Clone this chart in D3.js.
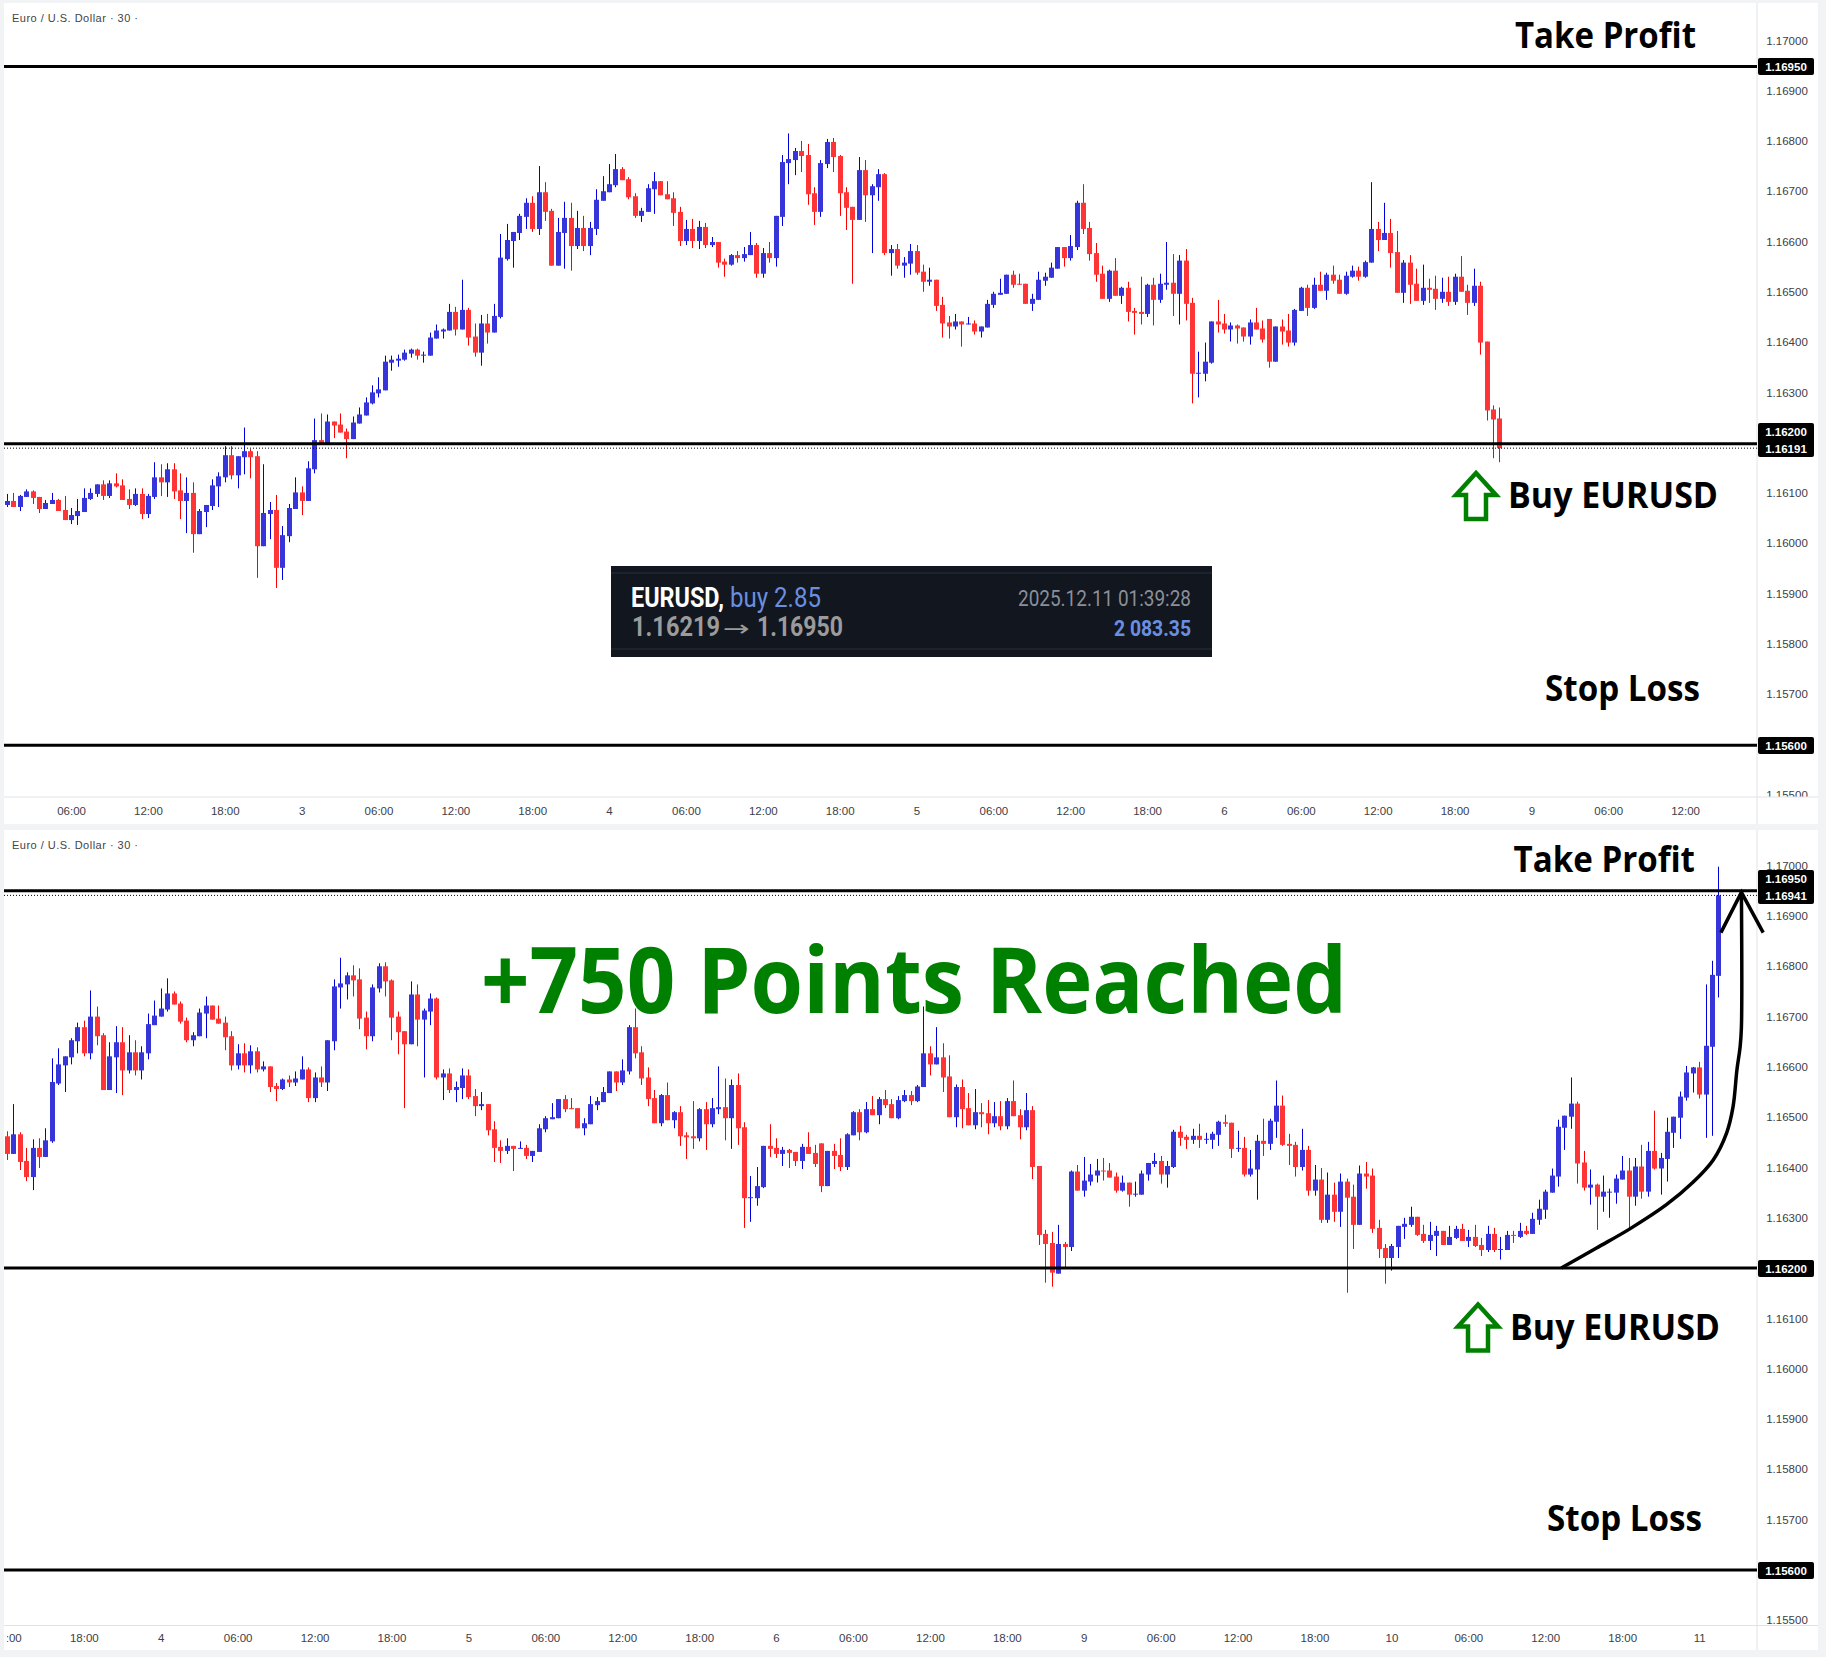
<!DOCTYPE html>
<html><head><meta charset="utf-8">
<style>
html,body{margin:0;padding:0;background:#f2f3f5;}
svg{display:block;}
.tick line,.domain{display:none;}
.ax text{font-family:"Liberation Sans",sans-serif;font-size:11.5px;fill:#3c4048;}
</style>
<script src="https://cdn.jsdelivr.net/npm/d3@7"></script>
</head><body>
<div id="c"></div>
<script>
// All prices are points (1e-5) above 1.16000.
const open=[78,86,74,94,105,94,70,80,88,68,
48,56,64,90,100,119,96,121,117,90,
78,100,60,94,133,123,149,107,86,102,
20,64,76,115,133,177,137,173,185,175,
-4,60,68,-47,16,70,103,86,149,207,
199,244,238,224,209,240,256,280,300,306,
361,365,367,379,387,375,375,409,423,425,
462,427,466,413,381,439,421,452,567,603,
619,651,679,627,700,663,554,619,649,593,
629,593,627,683,700,714,746,726,692,653,
661,706,722,696,688,661,603,627,603,631,
595,601,562,556,575,569,575,595,538,579,
569,651,758,764,782,774,698,661,756,800,
772,700,671,645,744,694,710,736,579,587,
554,558,583,542,522,526,476,441,433,443,
437,439,423,431,476,496,498,536,518,518,
478,486,524,530,548,591,569,591,679,629,
579,538,488,544,494,510,464,462,458,516,
486,516,520,498,564,480,339,339,361,443,
439,427,435,431,413,441,429,448,363,433,
425,401,464,510,470,516,504,536,526,498,
532,544,532,560,627,605,619,581,500,560,
518,484,510,508,488,502,482,532,504,480,
514,403,268,250,189,248,242,392,354,372,
384,394,394,382,354,370,346,346,386,407,
413,386,401,471,461,455,463,455,455,465,
490,489,437,439,386,396,453,447,491,523,
447,445,401,435,354,376,296,346,312,372,
342,286,388,384,280,240,220,242,282,286,
302,268,254,264,274,246,260,278,254,262,
246,236,268,236,236,266,262,274,268,296,
316,350,382,479,501,527,410,360,366,342,
350,350,376,394,342,402,352,433,398,417,
469,499,539,587,599,545,640,781];
const close=[86,74,96,105,92,70,82,88,66,48,
58,66,92,102,119,96,121,115,88,78,
100,60,96,133,123,149,105,86,102,20,
66,78,117,135,177,137,175,185,173,-4,
62,68,-47,18,72,103,86,151,207,199,
244,236,222,209,242,258,282,302,308,363,
367,369,381,387,375,377,411,425,427,462,
427,466,411,381,439,421,454,570,605,621,
653,679,627,700,661,554,621,649,593,629,
593,629,685,702,716,746,724,690,653,663,
708,722,694,686,659,603,627,603,631,595,
601,560,556,575,569,577,595,538,579,569,
653,760,766,782,772,696,661,758,800,770,
698,669,645,744,694,712,736,579,587,554,
560,583,540,522,526,474,439,433,443,437,
439,423,433,478,498,500,536,516,516,478,
488,526,532,550,591,569,593,679,627,577,
536,488,544,494,510,462,460,458,516,486,
518,520,498,564,478,339,341,363,443,437,
427,435,429,413,441,427,407,363,433,423,
401,466,510,470,516,504,536,524,498,534,
544,532,561,627,605,619,579,500,560,516,
484,510,506,488,502,482,532,502,480,514,
401,266,248,191,248,242,392,354,374,386,
394,392,380,354,370,346,348,388,409,413,
386,403,471,459,455,463,455,457,467,491,
487,437,439,386,398,453,447,493,523,445,
443,401,435,354,376,296,346,312,372,340,
286,388,382,278,238,220,244,284,288,302,
266,254,266,274,246,262,278,254,262,244,
236,268,236,238,266,264,274,268,298,318,
352,384,481,503,527,408,360,366,342,352,
352,378,394,342,402,352,433,398,419,471,
501,541,589,599,545,642,783,941];
const high=[100,102,98,109,107,94,88,102,90,96,
72,90,111,111,119,127,127,141,129,109,
111,111,100,163,159,161,161,141,133,123,
70,78,129,143,195,195,175,232,189,185,
159,84,98,36,80,133,115,165,250,260,
258,244,260,230,254,272,292,316,332,375,
375,377,387,389,389,383,421,437,429,478,
472,526,470,439,456,458,478,617,637,621,
657,688,692,752,720,667,649,681,679,663,
653,641,706,732,756,776,750,730,698,669,
716,740,722,722,700,671,645,647,643,639,
611,601,568,577,583,591,621,599,589,601,
653,774,817,788,802,796,710,764,806,808,
774,710,671,770,764,716,746,738,595,597,
571,597,595,556,550,526,492,454,458,443,
452,445,433,486,502,528,536,544,538,518,
498,542,540,560,591,591,615,683,716,641,
599,554,546,569,512,522,470,532,518,530,
538,601,577,575,587,490,383,401,443,486,
458,441,437,431,447,470,445,448,433,447,
458,468,512,516,530,542,540,554,536,542,
554,552,564,720,641,679,647,623,565,575,
548,556,528,534,530,532,538,573,516,548,
522,403,276,272,286,252,394,405,421,407,
417,419,409,390,384,370,372,394,409,429,
423,413,475,483,465,477,487,469,471,493,
505,489,473,461,435,465,497,497,573,543,
467,451,477,443,405,399,390,370,388,378,
366,404,411,398,296,248,248,284,300,322,
302,286,292,284,274,284,284,288,276,286,
260,284,280,262,274,274,290,284,310,336,
356,398,495,503,579,531,433,396,368,384,
358,386,423,419,419,445,451,513,429,499,
501,551,602,600,610,764,811,998];
const low=[74,74,66,94,80,62,70,80,66,48,
40,38,64,88,94,88,92,113,88,70,
76,50,52,90,96,94,90,50,22,-17,
20,34,68,74,123,129,111,139,131,-67,
-4,10,-87,-71,4,70,58,86,141,199,
199,211,222,171,209,240,256,278,292,306,
345,353,365,371,367,361,375,409,409,425,
415,427,395,373,355,399,421,449,564,550,
605,627,621,615,643,554,554,548,544,587,
583,575,615,683,700,710,724,686,649,641,
661,657,694,686,633,593,595,589,587,589,
591,550,532,554,560,562,575,530,530,560,
552,633,716,734,740,675,635,651,748,740,
653,625,518,645,641,579,683,575,534,548,
530,536,536,502,514,464,411,409,427,393,
437,417,411,431,470,496,498,510,516,478,
464,486,514,530,548,552,564,585,617,564,
522,488,482,494,478,443,417,437,452,435,
480,506,454,437,445,280,292,324,359,421,
419,403,399,403,397,427,401,351,363,397,
393,395,464,454,468,504,486,518,498,496,
530,524,530,560,583,605,550,500,480,478,
484,476,480,466,480,474,476,502,456,474,
377,246,171,163,189,199,234,354,342,364,
370,374,380,350,352,322,342,346,374,401,
368,360,399,443,437,447,439,447,437,443,
481,419,431,382,382,336,423,435,459,443,
405,382,394,344,344,290,290,292,282,151,
238,286,358,270,220,169,195,220,258,282,
264,250,236,224,246,246,258,254,242,242,
224,232,232,217,236,250,260,266,268,286,
298,350,362,435,477,368,354,326,276,312,
300,328,376,276,324,338,342,396,346,372,
439,457,533,549,537,459,463,738];

const priceTicks=[1000,900,800,700,600,500,400,300,100,0,-100,-200,-300,-500];
const topTimeIdx=[10,22,34,46,58,70,82,94,106,118,130,142,154,166,178,190,202,214,226,238,250,262];
const topTimeLabels=["06:00","12:00","18:00","3","06:00","12:00","18:00","4","06:00","12:00","18:00","5","06:00","12:00","18:00","6","06:00","12:00","18:00","9","06:00","12:00"];
const botTimeIdx=[70,82,94,106,118,130,142,154,166,178,190,202,214,226,238,250,262,274,286,298,310,322,334];
const botTimeLabels=["12:00","18:00","4","06:00","12:00","18:00","5","06:00","12:00","18:00","6","06:00","12:00","18:00","9","06:00","12:00","18:00","10","06:00","12:00","18:00","11"];
const topLevels=[950,200,-400];
const botLevels=[950,200,-400];
const topLast=191, botLast=941, topCount=234;
// swoosh arrow: [candle index, price points]
const swoosh=[[312.5,200],[318,240],[323.2,278],[328.9,326],[333,370],[336.2,415],[338.3,469],[339.3,521],[339.9,594],[340.4,640],[340.6,678],[340.6,947]];
const swooshHead=[[337.4,867],[340.6,947],[344,867]];

const W=1826,H=1657,PL=4,PR=1757;
const svg=d3.select("#c").append("svg").attr("width",W).attr("height",H);
const defs=svg.append("defs");
const fmt=v=>(1.16+v/1e5).toFixed(5);
const BLUE="#3535d9",BW="#0000dd",RED="#ff3535",RW="#ff0000",GREEN="#008000";
const TXT='"Open Sans",sans-serif';

function panel(o){
  const g=svg.append("g");
  g.append("rect").attr("x",PL).attr("y",o.top).attr("width",1818-PL).attr("height",o.bottom-o.top).attr("fill","#fff");
  const id="cp"+o.top;
  defs.append("clipPath").attr("id",id).append("rect").attr("x",PL).attr("y",o.top).attr("width",PR-PL).attr("height",o.axisY-o.top);
  defs.append("clipPath").attr("id",id+"p").append("rect").attr("x",PR).attr("y",o.top).attr("width",1818-PR).attr("height",o.axisY-o.top);
  defs.append("clipPath").attr("id",id+"t").append("rect").attr("x",7).attr("y",o.axisY).attr("width",PR-7).attr("height",o.bottom-o.axisY);
  const x=o.x,y=o.y;

  // price axis
  const ay=g.append("g").attr("class","ax").attr("clip-path",`url(#${id}p)`).append("g").attr("transform",`translate(1787,${o.tickDy})`)
    .call(d3.axisRight(y).tickValues(priceTicks).tickSize(0).tickPadding(0).tickFormat(fmt));
  ay.selectAll("text").attr("text-anchor","middle");
  // time axis
  g.append("g").attr("class","ax").attr("clip-path",`url(#${id}t)`).append("g").attr("transform",`translate(0,${o.axisY})`)
    .call(d3.axisBottom(x).tickValues(o.timeIdx).tickSize(0).tickPadding(o.timePad).tickFormat((d,i)=>o.timeLabels[i]));
  g.append("line").attr("x1",PR).attr("x2",PR).attr("y1",o.top).attr("y2",o.bottom).attr("stroke","#e0e3eb");
  g.append("line").attr("x1",PL).attr("x2",1818).attr("y1",o.axisY).attr("y2",o.axisY).attr("stroke","#e0e3eb");

  // candles
  const data=d3.range(o.count);
  const c=g.append("g").attr("clip-path",`url(#${id})`);
  c.selectAll("line.w").data(data).join("line").attr("class","w")
    .attr("x1",i=>Math.round(x(i))+.5).attr("x2",i=>Math.round(x(i))+.5)
    .attr("y1",i=>y(high[i])).attr("y2",i=>y(low[i]))
    .attr("stroke",i=>close[i]>=open[i]?BW:RW).attr("stroke-width",1);
  c.selectAll("rect.b").data(data).join("rect").attr("class","b")
    .attr("x",i=>Math.round(x(i))-2).attr("width",5)
    .attr("y",i=>y(Math.max(open[i],close[i])))
    .attr("height",i=>Math.max(1,Math.abs(y(open[i])-y(close[i]))))
    .attr("fill",i=>close[i]>=open[i]?BLUE:RED);

  // levels
  c.selectAll("line.l").data(o.levels).join("line").attr("class","l")
    .attr("x1",PL).attr("x2",PR).attr("y1",d=>y(d)).attr("y2",d=>y(d))
    .attr("stroke","#000").attr("stroke-width",3);
  c.append("line").attr("x1",PL).attr("x2",PR).attr("y1",y(o.last)).attr("y2",y(o.last))
    .attr("stroke","#000").attr("stroke-width",1).attr("stroke-dasharray","1 2");

  // legend
  g.append("text").attr("x",12).attr("y",o.top+18.5).attr("font-family",'"Liberation Sans",sans-serif').attr("font-size",11)
    .attr("fill","#444").attr("textLength",126).attr("lengthAdjust","spacing").text("Euro / U.S. Dollar · 30 ·");

  // price boxes
  o.boxes.forEach(b=>{
    g.append("rect").attr("x",1758).attr("y",b.y0).attr("width",56).attr("height",b.y1-b.y0).attr("rx",2).attr("fill","#000");
    b.vals.forEach(([v,ty])=>{
      g.append("text").attr("x",1786).attr("y",ty).attr("dy","0.36em").attr("text-anchor","middle")
       .attr("font-family",'"Liberation Sans",sans-serif').attr("font-size",11.5).attr("font-weight",700).attr("fill","#fff").text(fmt(v));
    });
  });

  // annotations
  const label=(s,x0,x1,by,size)=>g.append("text").attr("x",x0).attr("y",by).attr("font-family",TXT).attr("font-weight",700)
     .attr("font-size",size).attr("fill","#000").attr("textLength",x1-x0).attr("lengthAdjust","spacingAndGlyphs").text(s);
  label("Take Profit",o.tp[0],o.tp[1],o.tp[2],35);
  label("Stop Loss",o.sl[0],o.sl[1],o.sl[2],35);
  label("Buy EURUSD",o.buy[0],o.buy[1],o.buy[2],35);
  const ax=o.arrow[0],ay0=o.arrow[1]; // arrow tip
  g.append("path").attr("fill","none").attr("stroke",GREEN).attr("stroke-width",4.5).attr("stroke-linejoin","miter")
   .attr("d",d3.line()([[ax,ay0+3],[ax+20,ay0+25],[ax+10,ay0+25],[ax+10,ay0+49],[ax-10,ay0+49],[ax-10,ay0+25],[ax-20,ay0+25]])+"Z");
  return g;
}

const topY=d3.scaleLinear().domain([1000,-500]).range([41.4,795.6]);
const topX=d3.scaleLinear().domain([0,337]).range([7,7+6.405*337]);
const botY=d3.scaleLinear().domain([1000,-500]).range([865.7,1620.2]);
const botX=d3.scaleLinear().domain([94,337]).range([160.7,160.7+6.41*243]);

panel({top:3,bottom:824,axisY:797,x:topX,y:topY,tickDy:-1,count:topCount,timePad:10,timeIdx:topTimeIdx,timeLabels:topTimeLabels,levels:topLevels,last:topLast,
  boxes:[{y0:58,y1:75,vals:[[950,66.5]]},{y0:423,y1:457,vals:[[200,431.7],[191,449]]},{y0:737,y1:754,vals:[[-400,745.5]]}],
  tp:[1515,1696,48],sl:[1545,1700,701],buy:[1508,1718,508],arrow:[1476,470]});
const bot=panel({top:830,bottom:1650,axisY:1625.5,x:botX,y:botY,tickDy:0,count:open.length,timePad:8,timeIdx:botTimeIdx,timeLabels:botTimeLabels,levels:botLevels,last:botLast,
  boxes:[{y0:870,y1:904,vals:[[950,878.7],[941,895.7]]},{y0:1260,y1:1277,vals:[[200,1268.5]]},{y0:1562,y1:1579,vals:[[-400,1570.5]]}],
  tp:[1513.5,1695,872.3],sl:[1547,1702,1531],buy:[1510,1720,1339.5],arrow:[1478,1301.5]});

// +750 text
bot.append("text").attr("x",481).attr("y",1013).attr("font-family",TXT).attr("font-weight",700).attr("font-size",91)
  .attr("fill",GREEN).attr("textLength",866).attr("lengthAdjust","spacingAndGlyphs").text("+750 Points Reached");

// swoosh
const sw=d3.line().x(d=>botX(d[0])).y(d=>botY(d[1]));
bot.append("path").attr("fill","none").attr("stroke","#000").attr("stroke-width",3.5).attr("d",sw.curve(d3.curveCatmullRom.alpha(0.5))(swoosh));
bot.append("path").attr("fill","none").attr("stroke","#000").attr("stroke-width",3.5).attr("d",sw.curve(d3.curveLinear)(swooshHead));

// trade card
const card=svg.append("g");
card.append("rect").attr("x",611).attr("y",566).attr("width",601).attr("height",91).attr("fill","#11161f");
[573,649].forEach(ly=>card.append("line").attr("x1",611).attr("x2",1212).attr("y1",ly).attr("y2",ly).attr("stroke","#2a303c"));
const ct=(s,x0,x1,by,size,weight,fill,fam)=>card.append("text").attr("x",x0).attr("y",by).attr("font-family",fam||"Roboto,sans-serif").attr("font-size",size)
  .attr("font-weight",weight).attr("fill",fill).attr("textLength",x1-x0).attr("lengthAdjust","spacingAndGlyphs").text(s);
ct("EURUSD,",631,724,607,27,700,"#fff");
ct("buy 2.85",730,821,607,27,400,"#6a8fe0");
ct("1.16219",632,720,636,27,700,"#9b9b9b");
ct("→",723,750,636,22,400,"#9b9b9b",'"DejaVu Sans",sans-serif');
ct("1.16950",757,843,636,27,700,"#9b9b9b");
ct("2025.12.11 01:39:28",1018,1191,606,22,400,"#8a8f98");
ct("2 083.35",1114,1191,636,22,700,"#6a8fe0");
</script>
</body></html>
